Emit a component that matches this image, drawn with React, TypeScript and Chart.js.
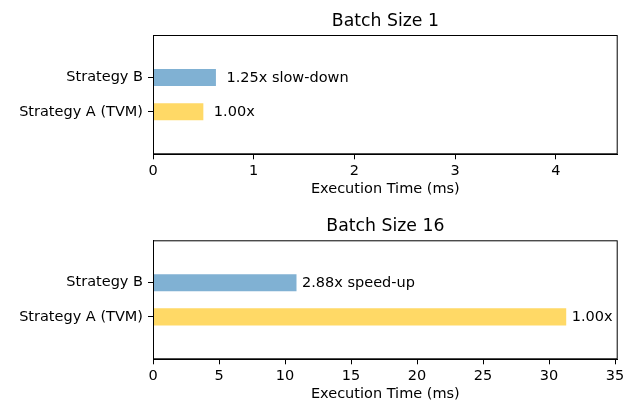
import React, { useEffect, useRef } from "react";
import { Chart, registerables } from "chart.js";

Chart.register(...registerables);

const categories = ["Strategy A (TVM)", "Strategy B"];
const batch1Times = [0.5, 0.625];
const batch16Times = [31.3, 10.87];
const batch1Labels = ["1.00x", "1.25x slow-down"];
const batch16Labels = ["1.00x", "2.88x speed-up"];
const barColors = ["#ffd966", "#80b1d3"];
const xTitle = "Execution Time (ms)";

const FONT = "'DejaVu Sans', sans-serif";
const FS = 14.5;
const TFS = 17.3;

type PanelProps = {
  title: string;
  values: number[];
  labels: string[];
  xMax: number;
  xStep: number;
  height: number;
  top: number;
  areaTop: number;
  labelGap: number;
};

function Panel({ title, values, labels, xMax, xStep, height, top, areaTop, labelGap }: PanelProps) {
  const ref = useRef<HTMLCanvasElement | null>(null);
  useEffect(() => {
    if (!ref.current) return;
    const axisH = 45.7;
    const deco = {
      id: "deco",
      afterDatasetsDraw(chart: any) {
        const ctx = chart.ctx;
        ctx.save();
        ctx.font = `${FS}px ${FONT}`;
        ctx.fillStyle = "#000";
        ctx.textBaseline = "middle";
        ctx.textAlign = "left";
        const meta = chart.getDatasetMeta(0);
        meta.data.forEach((bar: any, i: number) => {
          ctx.fillText(labels[i], bar.x + labelGap, bar.y + 0.5);
        });
        ctx.restore();
      },
      afterDraw(chart: any) {
        const ctx = chart.ctx;
        const a = chart.chartArea;
        ctx.save();
        ctx.strokeStyle = "#000";
        ctx.lineWidth = 1;
        ctx.strokeRect(a.left + 0.5, a.top + 0.5, a.right - a.left - 1, a.bottom - a.top - 1);
        ctx.font = `${TFS}px ${FONT}`;
        ctx.fillStyle = "#000";
        ctx.textAlign = "center";
        ctx.textBaseline = "alphabetic";
        ctx.fillText(title, (a.left + a.right) / 2, a.top - 9);
        ctx.restore();
      },
    };
    const chart = new Chart(ref.current, {
      type: "bar",
      data: {
        datasets: [
          {
            data: values.map((v, i) => ({ x: v, y: i })) as any,
            backgroundColor: barColors,
            borderWidth: 0,
            barPercentage: 0.5,
            categoryPercentage: 1,
          },
        ],
      },
      options: {
        indexAxis: "y",
        animation: false,
        responsive: false,
        maintainAspectRatio: false,
        layout: { padding: { left: 0, top: areaTop, right: 14.3, bottom: 0 } },
        plugins: { legend: { display: false }, tooltip: { enabled: false }, title: { display: false } },
        scales: {
          x: {
            type: "linear",
            position: "bottom",
            min: 0,
            max: xMax,
            offset: false,
            afterFit: (s: any) => {
              s.height = axisH;
            },
            border: { display: true, color: "#000", width: 1 },
            grid: { offset: false, drawOnChartArea: false, drawTicks: true, tickLength: 5, color: "#000", tickColor: "#000" },
            ticks: {
              stepSize: xStep,
              includeBounds: false,
              padding: 3,
              color: "#000",
              font: { family: FONT, size: FS },
              maxRotation: 0,
            },
            title: {
              display: true,
              text: xTitle,
              color: "#000",
              font: { family: FONT, size: FS },
              padding: { top: 0, bottom: 2.3 },
            },
          },
          y: {
            type: "linear",
            position: "left",
            min: -1.24,
            max: 2.24,
            offset: false,
            afterFit: (s: any) => {
              s.width = 153;
            },
            afterBuildTicks: (s: any) => {
              s.ticks = categories.map((_, i) => ({ value: i }));
            },
            border: { display: true, color: "#000", width: 1 },
            grid: { offset: false, drawOnChartArea: false, drawTicks: true, tickLength: 5, color: "#000", tickColor: "#000" },
            ticks: {
              padding: 5,
              color: "#000",
              font: { family: FONT, size: FS },
              autoSkip: false,
              callback: (v: any) => categories[v as number] ?? "",
            },
          },
        },
      },
      plugins: [deco],
    });
    return () => chart.destroy();
  }, []);
  return (
    <canvas
      ref={ref}
      width={632}
      height={height}
      style={{ position: "absolute", left: 0, top, width: 632, height }}
    />
  );
}

export default function App() {
  return (
    <div style={{ position: "fixed", left: 0, top: 0, width: 632, height: 405, background: "#fff" }}>
      <Panel
        title="Batch Size 1"
        values={batch1Times}
        labels={batch1Labels}
        xMax={4.615}
        xStep={1}
        height={200}
        top={0}
        areaTop={35}
        labelGap={10.5}
      />
      <Panel
        title="Batch Size 16"
        values={batch16Times}
        labels={batch16Labels}
        xMax={35.2}
        xStep={5}
        height={205}
        top={200}
        areaTop={40.3}
        labelGap={5.5}
      />
    </div>
  );
}
